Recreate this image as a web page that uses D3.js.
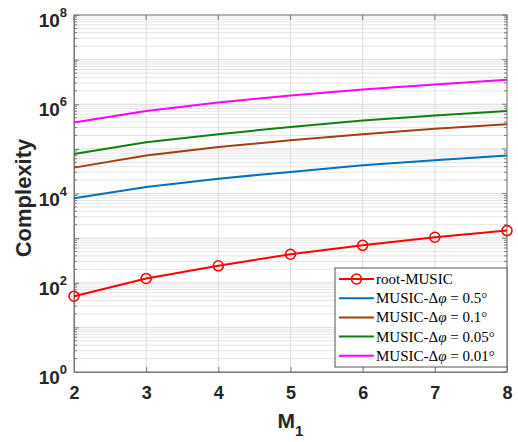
<!DOCTYPE html>
<html>
<head>
<meta charset="utf-8">
<script src="https://cdn.jsdelivr.net/npm/d3@7"></script>
<style>
  body { margin: 0; background: #fff; }
  .tick text { font-family: "Liberation Sans", Arial, sans-serif; font-weight: bold; }
</style>
</head>
<body>
<script>
// data
var m1 = [2, 3, 4, 5, 6, 7, 8];
var rootMusic = [50, 125, 240, 435, 690, 1045, 1475];
var music05 = [7800, 14000, 21500, 30500, 43000, 55500, 71000];
var music01 = [38000, 71000, 110000, 156000, 213000, 281000, 355000];
var music005 = [77000, 141000, 213000, 311000, 430000, 560000, 710000];
var music001 = [388000, 710000, 1090000, 1580000, 2130000, 2760000, 3550000];
var seriesNames = ["root-MUSIC", "MUSIC-", "MUSIC-", "MUSIC-", "MUSIC-"];
var seriesSteps = [null, "0.5", "0.1", "0.05", "0.01"];
var seriesColors = ["#ff0000", "#0072bd", "#a2400f", "#108010", "#ff00ff"];
var yTicks = [1, 1e2, 1e4, 1e6, 1e8];

var W = 518, H = 442;
var margin = {top: 15, right: 11, bottom: 70, left: 74},
    width = W - margin.left - margin.right,
    height = H - margin.top - margin.bottom;

var svg = d3.select("body").append("svg")
  .attr("width", W).attr("height", H);
var g = svg.append("g")
  .attr("transform", "translate(" + margin.left + "," + margin.top + ")");

var x = d3.scaleLinear().domain([2, 8]).range([0, width]);
var y = d3.scaleLog().domain([1, 1e8]).range([height, 0]);

// minor grid
var minor = [];
for (var e = 0; e < 8; e++) {
  for (var k = 2; k <= 9; k++) minor.push(k * Math.pow(10, e));
}
g.append("g").selectAll("line").data(minor).enter().append("line")
  .attr("x1", 0).attr("x2", width)
  .attr("y1", function (d) { return y(d); }).attr("y2", function (d) { return y(d); })
  .attr("stroke", "#e4e4e4").attr("stroke-width", 1);

// major grid
var decades = d3.range(0, 9).map(function (e) { return Math.pow(10, e); });
g.append("g").selectAll("line").data(decades).enter().append("line")
  .attr("x1", 0).attr("x2", width)
  .attr("y1", function (d) { return y(d); }).attr("y2", function (d) { return y(d); })
  .attr("stroke", "#dcdcdc");
g.append("g").selectAll("line").data(m1).enter().append("line")
  .attr("y1", 0).attr("y2", height)
  .attr("x1", function (d) { return x(d); }).attr("x2", function (d) { return x(d); })
  .attr("stroke", "#dcdcdc");

// axes
var axisColor = "#7a7a7a";
var xAxis = g.append("g").attr("transform", "translate(0," + height + ")")
  .call(d3.axisBottom(x).tickValues(m1).tickFormat(d3.format("d")).tickSizeInner(-5).tickSizeOuter(0).tickPadding(14));
xAxis.selectAll("text").attr("font-size", 18).attr("fill", "#262626");

var yAxis = g.append("g")
  .call(d3.axisLeft(y).tickValues(decades).tickFormat("").tickSizeInner(-5).tickSizeOuter(0));

// y minor ticks on both sides
g.append("g").selectAll("line").data(minor).enter().append("line")
  .attr("x1", 0).attr("x2", 3)
  .attr("y1", function (d) { return y(d); }).attr("y2", function (d) { return y(d); })
  .attr("stroke", axisColor);
g.append("g").selectAll("line").data(minor).enter().append("line")
  .attr("x1", width).attr("x2", width - 3)
  .attr("y1", function (d) { return y(d); }).attr("y2", function (d) { return y(d); })
  .attr("stroke", axisColor);
g.append("g").selectAll("line").data(decades).enter().append("line")
  .attr("x1", width).attr("x2", width - 5)
  .attr("y1", function (d) { return y(d); }).attr("y2", function (d) { return y(d); })
  .attr("stroke", axisColor);
g.append("g").selectAll("line").data(m1).enter().append("line")
  .attr("y1", 0).attr("y2", 5)
  .attr("x1", function (d) { return x(d); }).attr("x2", function (d) { return x(d); })
  .attr("stroke", axisColor);

g.selectAll(".domain, .tick line").attr("stroke", axisColor);
g.append("rect").attr("width", width).attr("height", height)
  .attr("fill", "none").attr("stroke", axisColor);

// y tick labels: 10^n
var yl = g.append("g").selectAll("text").data(yTicks).enter().append("text")
  .attr("x", -7).attr("y", function (d) { return y(d) + 12; })
  .attr("text-anchor", "end")
  .attr("font-family", "Liberation Sans, Arial, sans-serif")
  .attr("font-weight", "bold").attr("font-size", 19).attr("fill", "#262626");
yl.append("tspan").text("10");
yl.append("tspan").attr("dy", -10).attr("font-size", 13)
  .text(function (d) { return Math.round(Math.log10(d)); });

// lines
var allSeries = [rootMusic, music05, music01, music005, music001];
var line = d3.line()
  .x(function (d, i) { return x(m1[i]); })
  .y(function (d) { return y(d); });

allSeries.slice(1).forEach(function (s, i) {
  g.append("path").datum(s).attr("d", line)
    .attr("fill", "none").attr("stroke", seriesColors[i + 1]).attr("stroke-width", 2);
});
g.append("path").datum(rootMusic).attr("d", line)
  .attr("fill", "none").attr("stroke", seriesColors[0]).attr("stroke-width", 2);
g.append("g").selectAll("circle").data(rootMusic).enter().append("circle")
  .attr("cx", function (d, i) { return x(m1[i]); })
  .attr("cy", function (d) { return y(d); })
  .attr("r", 5).attr("fill", "none").attr("stroke", seriesColors[0]).attr("stroke-width", 1.6);

// axis titles
svg.append("text")
  .attr("transform", "translate(31,198) rotate(-90)")
  .attr("text-anchor", "middle")
  .attr("font-family", "Liberation Sans, Arial, sans-serif")
  .attr("font-weight", "bold").attr("font-size", 22).attr("fill", "#262626")
  .text("Complexity");

var xt = svg.append("text")
  .attr("x", margin.left + width / 2).attr("y", 428)
  .attr("text-anchor", "middle")
  .attr("font-family", "Liberation Sans, Arial, sans-serif")
  .attr("font-weight", "bold").attr("font-size", 21).attr("fill", "#262626");
xt.append("tspan").text("M");
xt.append("tspan").attr("dy", 8).attr("font-size", 15).text("1");

// legend
var lg = g.append("g").attr("transform", "translate(" + (width - 172) + "," + (height - 104) + ")");
lg.append("rect").attr("width", 172).attr("height", 99)
  .attr("fill", "#fff").attr("stroke", "#555").attr("stroke-width", 1);
seriesNames.forEach(function (name, i) {
  var ry = 11 + i * 19.2;
  lg.append("line").attr("x1", 4).attr("x2", 39).attr("y1", ry).attr("y2", ry)
    .attr("stroke", seriesColors[i]).attr("stroke-width", 2);
  if (i === 0) {
    lg.append("circle").attr("cx", 21.5).attr("cy", ry).attr("r", 5)
      .attr("fill", "none").attr("stroke", seriesColors[0]).attr("stroke-width", 1.6);
  }
  var t = lg.append("text").attr("x", 41).attr("y", ry + 5)
    .attr("font-family", "Liberation Serif, Times New Roman, serif")
    .attr("font-size", 15).attr("fill", "#000");
  t.append("tspan").text(name);
  if (seriesSteps[i] !== null) {
    t.append("tspan").text("\u0394");
    t.append("tspan").attr("font-style", "italic").text("\u03C6");
    t.append("tspan").text(" = " + seriesSteps[i] + "\u00B0");
  }
});
</script>
</body>
</html>
